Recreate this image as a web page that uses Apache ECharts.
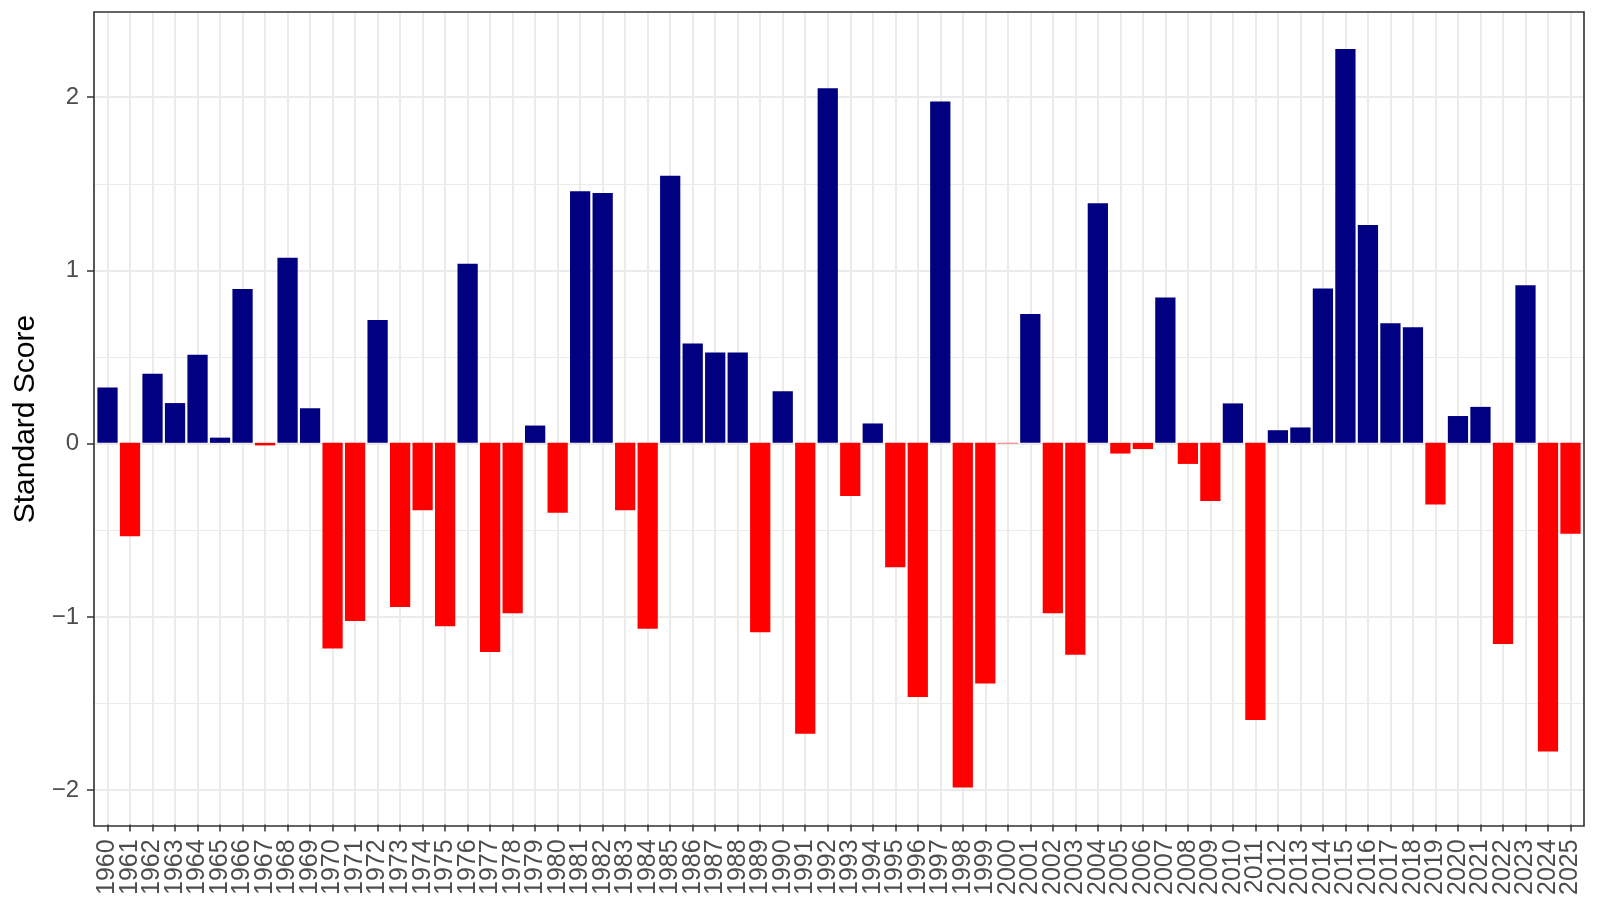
<!DOCTYPE html>
<html>
<head>
<meta charset="utf-8">
<title>Standard Score</title>
<script src="https://cdn.jsdelivr.net/npm/echarts@6/dist/echarts.min.js"></script>
<style>
  html, body { margin: 0; padding: 0; background: #ffffff; }
  #chart { width: 1599px; height: 898px; }
</style>
</head>
<body>
<div id="chart"></div>
<script>
// 年份 (x 轴类别)
var years = [
  '1960', '1961', '1962', '1963', '1964', '1965', '1966', '1967', '1968', '1969',
  '1970', '1971', '1972', '1973', '1974', '1975', '1976', '1977', '1978', '1979',
  '1980', '1981', '1982', '1983', '1984', '1985', '1986', '1987', '1988', '1989',
  '1990', '1991', '1992', '1993', '1994', '1995', '1996', '1997', '1998', '1999',
  '2000', '2001', '2002', '2003', '2004', '2005', '2006', '2007', '2008', '2009',
  '2010', '2011', '2012', '2013', '2014', '2015', '2016', '2017', '2018', '2019',
  '2020', '2021', '2022', '2023', '2024', '2025'
];

// 标准分数
var scores = [
  0.32, -0.54, 0.40, 0.23, 0.51, 0.03, 0.89, -0.015, 1.07, 0.20,
  -1.19, -1.03, 0.71, -0.95, -0.39, -1.06, 1.035, -1.21, -0.985, 0.10,
  -0.405, 1.455, 1.445, -0.39, -1.075, 1.545, 0.575, 0.522, 0.522, -1.095,
  0.298, -1.683, 2.05, -0.307, 0.112, -0.72, -1.47, 1.974, -1.993, -1.392,
  -0.003, 0.745, -0.985, -1.225, 1.385, -0.062, -0.036, 0.84, -0.122, -0.337,
  0.228, -1.603, 0.073, 0.089, 0.893, 2.278, 1.26, 0.692, 0.668, -0.357,
  0.155, 0.208, -1.164, 0.912, -1.785, -0.526
];

// y 轴刻度
var yTicks = [-2, -1, 0, 1, 2];

var font = 'Liberation Sans, Arial, Helvetica, sans-serif';

// y 轴范围: 数据范围上下各扩 5%
var dMin = Math.min.apply(null, scores);
var dMax = Math.max.apply(null, scores);
var span = dMax - dMin;
var yMin = dMin - span * 0.05;
var yMax = dMax + span * 0.05;

// 面板位置
var W = 1599, L = 94, R = 15, T = 12, B = 72;
// ggplot 的离散轴两边各留 0.6 个单位, 类目轴自带 0.5, 所以柱子那层再往里缩 0.1
var unit = (W - L - R) / (years.length + 0.2);
var pad = unit * 0.1;

var chart = echarts.init(document.getElementById('chart'));
chart.setOption({
  animation: false,
  backgroundColor: '#ffffff',
  grid: [
    // 0: 面板 (边框, 网格线, y 轴)
    {
      left: L, right: R, top: T, bottom: B,
      show: true,
      z: 5,
      borderColor: '#333333',
      borderWidth: 1.6,
      backgroundColor: 'transparent'
    },
    // 1: 柱子和年份标签
    { left: L + pad, right: R + pad, top: T, bottom: B }
  ],
  xAxis: [
    {
      gridIndex: 0,
      type: 'value',
      min: 0.4,
      max: years.length + 0.6,
      minInterval: 1,
      maxInterval: 1,
      axisLine: { show: false, onZero: false },
      axisTick: { show: false },
      axisLabel: { show: false },
      // 每个年份一条竖线
      splitLine: { show: true, lineStyle: { color: '#ebebeb', width: 2 } }
    },
    {
      gridIndex: 1,
      type: 'category',
      data: years,
      axisLine: { show: false, onZero: false },
      axisTick: {
        show: true,
        alignWithLabel: true,
        interval: 0,
        length: 7,
        lineStyle: { color: '#333333', width: 1.5 }
      },
      axisLabel: {
        interval: 0,
        rotate: 90,
        margin: 15,
        color: '#4d4d4d',
        fontSize: 25,
        fontFamily: font
      },
      splitLine: { show: false }
    }
  ],
  yAxis: [
    {
      gridIndex: 0,
      type: 'value',
      min: yMin,
      max: yMax,
      minInterval: 1,
      maxInterval: 1,
      name: 'Standard Score',
      nameLocation: 'middle',
      nameRotate: 90,
      nameGap: 52,
      nameTextStyle: { color: '#000000', fontSize: 30, fontFamily: font },
      axisLine: { show: false, onZero: false },
      axisTick: {
        show: true,
        customValues: yTicks,
        length: 7,
        lineStyle: { color: '#333333', width: 1.5 }
      },
      axisLabel: {
        customValues: yTicks,
        margin: 15,
        color: '#4d4d4d',
        fontSize: 24,
        fontFamily: font,
        formatter: function (v) { return v < 0 ? '\u2212' + Math.abs(v) : String(v); }
      },
      splitLine: { show: true, lineStyle: { color: '#ebebeb', width: 2 } },
      minorTick: { show: false, splitNumber: 2 },
      minorSplitLine: { show: true, lineStyle: { color: '#ebebeb', width: 1 } }
    },
    {
      gridIndex: 1,
      type: 'value',
      min: yMin,
      max: yMax,
      show: false
    }
  ],
  series: [
    {
      type: 'bar',
      xAxisIndex: 1,
      yAxisIndex: 1,
      barWidth: '90%',
      data: scores,
      itemStyle: {
        // 正值蓝色, 负值红色
        color: function (p) { return p.value >= 0 ? '#000080' : '#ff0000'; }
      }
    }
  ]
});
</script>
</body>
</html>
